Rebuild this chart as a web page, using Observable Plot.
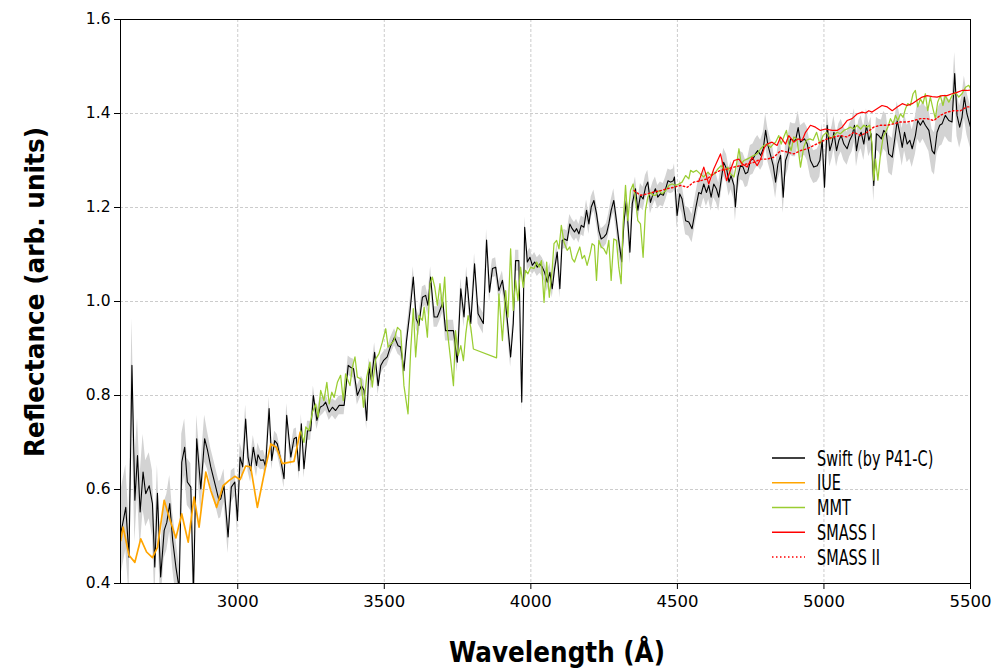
<!DOCTYPE html>
<html><head><meta charset="utf-8">
<script src="https://cdn.jsdelivr.net/npm/d3@7"></script>
<script src="https://cdn.jsdelivr.net/npm/@observablehq/plot@0.6"></script>
<style>
body{margin:0;background:#fff;}
#chart{width:992px;height:670px;}
</style></head><body><div id="chart"></div>
<script>
// Swift (by P41-C): [wavelength Å, reflectance, band half-width]
const swift = [
[2601,0.506,0.09],[2618,0.562,0.09],[2629,0.456,0.08],[2639,0.864,0.10],[2649,0.577,0.09],[2658,0.672,0.08],[2667,0.552,0.08],[2677,0.637,0.08],[2686,0.591,0.07],[2698,0.608,0.07],
[2709,0.570,0.07],[2717,0.435,0.07],[2726,0.592,0.06],[2737,0.414,0.06],[2749,0.513,0.06],[2758,0.530,0.06],[2768,0.570,0.06],[2778,0.492,0.06],[2789,0.435,0.06],[2800,0.390,0.05],
[2809,0.658,0.06],[2819,0.690,0.06],[2828,0.616,0.05],[2840,0.605,0.05],[2849,0.380,0.05],[2860,0.708,0.05],[2874,0.601,0.05],[2887,0.708,0.05],[2897,0.683,0.04],[2908,0.648,0.04],
[2925,0.605,0.04],[2936,0.577,0.04],[2942,0.580,0.04],[2953,0.608,0.035],[2967,0.499,0.035],[2978,0.605,0.035],[2990,0.616,0.03],[2999,0.534,0.03],[3008,0.669,0.03],[3017,0.648,0.03],
[3027,0.750,0.03],[3035,0.669,0.03],[3044,0.640,0.025],[3053,0.690,0.025],[3064,0.651,0.025],[3069,0.674,0.025],[3078,0.662,0.02],[3088,0.663,0.02],[3095,0.648,0.02],[3107,0.772,0.025],
[3116,0.662,0.02],[3126,0.704,0.02],[3135,0.697,0.02],[3147,0.662,0.02],[3158,0.623,0.02],[3167,0.758,0.025],[3181,0.669,0.02],[3192,0.708,0.02],[3200,0.711,0.02],[3209,0.640,0.02],
[3217,0.740,0.02],[3226,0.644,0.02],[3238,0.725,0.02],[3249,0.725,0.02],[3258,0.800,0.02],[3270,0.747,0.02],[3281,0.775,0.02],[3292,0.779,0.018],[3300,0.786,0.018],[3312,0.765,0.018],
[3323,0.775,0.018],[3334,0.768,0.02],[3346,0.779,0.02],[3363,0.779,0.02],[3377,0.864,0.02],[3385,0.860,0.02],[3395,0.857,0.02],[3408,0.800,0.02],[3422,0.821,0.02],[3431,0.811,0.02],
[3440,0.747,0.02],[3448,0.860,0.02],[3456,0.832,0.02],[3467,0.892,0.02],[3479,0.821,0.02],[3488,0.864,0.02],[3497,0.874,0.018],[3510,0.882,0.018],[3522,0.906,0.018],[3535,0.924,0.018],
[3547,0.906,0.018],[3556,0.903,0.02],[3567,0.853,0.02],[3576,0.917,0.02],[3588,0.981,0.022],[3599,1.052,0.022],[3609,0.963,0.022],[3618,0.949,0.022],[3630,1.009,0.022],[3641,1.013,0.022],
[3649,0.992,0.022],[3658,1.052,0.022],[3670,0.967,0.022],[3681,0.967,0.022],[3692,0.985,0.022],[3700,0.999,0.022],[3709,0.938,0.022],[3721,0.938,0.022],[3736,0.938,0.022],[3749,0.871,0.022],
[3761,1.027,0.022],[3772,0.967,0.022],[3781,1.052,0.022],[3795,0.953,0.022],[3808,1.080,0.022],[3820,0.974,0.022],[3838,0.953,0.022],[3849,1.131,0.022],[3859,1.020,0.022],[3869,1.070,0.02],
[3880,1.073,0.02],[3891,1.023,0.02],[3903,1.045,0.02],[3914,0.995,0.022],[3922,0.945,0.022],[3931,0.882,0.022],[3940,0.953,0.022],[3948,1.087,0.022],[3959,1.087,0.022],[3969,0.786,0.022],
[3979,1.158,0.022],[3988,1.084,0.02],[3997,1.094,0.02],[4005,1.077,0.02],[4013,1.084,0.02],[4022,1.073,0.02],[4031,1.080,0.02],[4039,1.073,0.02],[4047,1.062,0.02],[4056,1.041,0.02],
[4065,1.062,0.02],[4073,1.027,0.02],[4081,1.070,0.02],[4090,1.105,0.02],[4099,1.027,0.02],[4107,1.130,0.02],[4115,1.133,0.02],[4124,1.130,0.02],[4133,1.165,0.02],[4141,1.155,0.02],
[4149,1.148,0.02],[4156,1.155,0.02],[4164,1.144,0.02],[4172,1.162,0.02],[4181,1.158,0.02],[4190,1.194,0.022],[4198,1.165,0.022],[4206,1.201,0.022],[4215,1.215,0.022],[4224,1.187,0.022],
[4232,1.151,0.022],[4240,1.133,0.022],[4249,1.137,0.022],[4258,1.144,0.022],[4266,1.165,0.022],[4274,1.194,0.022],[4283,1.215,0.025],[4292,1.172,0.025],[4300,1.130,0.025],[4310,1.084,0.025],
[4318,1.172,0.025],[4326,1.215,0.025],[4338,1.105,0.025],[4346,1.208,0.025],[4357,1.240,0.025],[4365,1.194,0.025],[4374,1.226,0.025],[4383,1.218,0.025],[4391,1.243,0.025],[4399,1.254,0.025],
[4408,1.211,0.025],[4417,1.229,0.025],[4425,1.240,0.025],[4433,1.222,0.025],[4442,1.229,0.025],[4452,1.226,0.025],[4460,1.240,0.025],[4468,1.257,0.025],[4477,1.254,0.025],[4486,1.257,0.025],
[4490,1.265,0.028],[4499,1.183,0.028],[4508,1.229,0.028],[4516,1.218,0.03],[4528,1.172,0.03],[4539,1.169,0.03],[4550,1.155,0.03],[4562,1.197,0.03],[4573,1.232,0.03],[4581,1.229,0.03],
[4590,1.250,0.03],[4599,1.232,0.03],[4607,1.247,0.03],[4615,1.222,0.03],[4624,1.250,0.03],[4633,1.240,0.03],[4641,1.222,0.03],[4649,1.257,0.03],[4658,1.296,0.03],[4668,1.282,0.03],
[4676,1.254,0.03],[4683,1.268,0.03],[4693,1.247,0.03],[4698,1.201,0.03],[4706,1.265,0.03],[4715,1.289,0.03],[4724,1.286,0.03],[4732,1.272,0.03],[4740,1.275,0.03],[4749,1.300,0.032],
[4758,1.303,0.032],[4766,1.314,0.032],[4774,1.321,0.032],[4784,1.311,0.032],[4793,1.325,0.035],[4801,1.364,0.035],[4809,1.332,0.035],[4818,1.311,0.035],[4827,1.289,0.035],[4835,1.254,0.035],
[4843,1.293,0.035],[4852,1.311,0.035],[4861,1.222,0.035],[4869,1.300,0.035],[4877,1.314,0.035],[4886,1.346,0.035],[4895,1.343,0.035],[4903,1.343,0.035],[4912,1.370,0.035],[4920,1.339,0.035],
[4934,1.346,0.035],[4943,1.335,0.035],[4954,1.300,0.035],[4965,1.286,0.035],[4977,1.289,0.035],[4986,1.300,0.035],[4994,1.343,0.035],[5002,1.243,0.035],[5011,1.375,0.035],[5020,1.321,0.035],
[5028,1.339,0.035],[5034,1.360,0.035],[5043,1.321,0.035],[5051,1.343,0.035],[5059,1.353,0.035],[5068,1.335,0.035],[5079,1.325,0.035],[5088,1.343,0.035],[5096,1.353,0.035],[5104,1.375,0.035],
[5111,1.321,0.035],[5119,1.350,0.035],[5127,1.360,0.035],[5136,1.335,0.035],[5145,1.375,0.035],[5153,1.343,0.035],[5161,1.357,0.035],[5170,1.247,0.035],[5179,1.357,0.035],[5187,1.353,0.035],
[5196,1.346,0.04],[5204,1.364,0.04],[5213,1.357,0.04],[5221,1.314,0.04],[5233,1.307,0.04],[5241,1.343,0.04],[5250,1.385,0.04],[5259,1.357,0.04],[5267,1.328,0.04],[5275,1.360,0.04],
[5284,1.335,0.04],[5293,1.343,0.04],[5301,1.325,0.04],[5312,1.353,0.04],[5320,1.385,0.04],[5329,1.375,0.04],[5338,1.385,0.04],[5346,1.375,0.04],[5358,1.364,0.045],[5369,1.321,0.045],
[5377,1.314,0.045],[5386,1.360,0.045],[5395,1.375,0.045],[5403,1.378,0.045],[5414,1.396,0.045],[5426,1.385,0.045],[5437,1.382,0.045],[5446,1.485,0.045],[5454,1.396,0.045],[5463,1.371,0.045],
[5471,1.392,0.045],[5479,1.435,0.045],[5488,1.399,0.045],[5500,1.371,0.045]
];

// IUE: [wavelength Å, reflectance]
const iue = [
[2601,0.491],[2609,0.520],[2629,0.460],[2649,0.445],[2669,0.495],[2689,0.467],[2709,0.455],[2726,0.477],[2749,0.577],[2766,0.541],
[2789,0.497],[2809,0.548],[2831,0.488],[2851,0.584],[2868,0.520],[2891,0.637],[2908,0.598],[2928,0.562],[2950,0.608],[2970,0.619],
[2990,0.628],[3008,0.621],[3027,0.650],[3044,0.648],[3067,0.562],[3092,0.639],[3113,0.697],[3132,0.690],[3152,0.655],[3192,0.660],[3213,0.722]
];

// MMT: [wavelength Å, reflectance]
const mmt = [
[3215,0.725],[3226,0.700],[3232,0.733],[3243,0.726],[3255,0.765],[3266,0.782],[3274,0.754],[3283,0.811],[3294,0.789],[3304,0.828],
[3312,0.782],[3321,0.807],[3329,0.796],[3340,0.828],[3351,0.843],[3360,0.789],[3368,0.846],[3383,0.821],[3391,0.860],[3400,0.882],
[3408,0.839],[3420,0.835],[3429,0.775],[3440,0.839],[3451,0.871],[3459,0.818],[3471,0.878],[3482,0.889],[3493,0.913],[3505,0.942],
[3513,0.903],[3524,0.910],[3533,0.917],[3545,0.945],[3556,0.938],[3567,0.821],[3581,0.761],[3590,0.896],[3599,0.985],[3607,0.882],
[3618,0.970],[3630,0.960],[3636,0.988],[3647,0.924],[3656,1.038],[3664,1.052],[3672,1.031],[3681,0.992],[3690,1.038],[3698,0.988],
[3706,1.052],[3715,0.938],[3726,0.878],[3736,0.821],[3743,0.938],[3752,0.885],[3761,0.906],[3770,0.874],[3778,0.931],[3786,0.970],
[3795,0.945],[3804,0.899],[3883,0.880],[3891,1.016],[3903,0.917],[3914,1.023],[3922,0.967],[3931,1.112],[3940,0.981],[3948,1.045],
[3956,1.002],[3965,1.073],[3974,1.030],[3982,1.066],[3990,1.059],[3999,1.073],[4011,1.070],[4020,1.084],[4028,1.073],[4036,1.087],
[4045,0.998],[4054,1.084],[4063,1.009],[4073,1.070],[4079,1.123],[4088,1.130],[4096,1.112],[4104,1.162],[4113,1.126],[4124,1.109],
[4133,1.116],[4141,1.091],[4149,1.084],[4158,1.101],[4167,1.116],[4175,1.091],[4183,1.098],[4192,1.077],[4202,1.101],[4209,1.123],
[4217,1.119],[4224,1.045],[4232,1.130],[4240,1.116],[4249,1.112],[4258,1.101],[4266,1.130],[4274,1.045],[4283,1.133],[4292,1.130],
[4300,1.073],[4308,1.038],[4315,1.165],[4323,1.247],[4331,1.172],[4340,1.236],[4349,1.250],[4357,1.218],[4365,1.172],[4374,1.165],
[4383,1.094],[4391,1.194],[4399,1.222],[4408,1.232],[4417,1.226],[4425,1.226],[4437,1.236],[4448,1.229],[4460,1.236],[4471,1.247],
[4482,1.250],[4494,1.247],[4505,1.250],[4516,1.254],[4528,1.268],[4539,1.261],[4545,1.279],[4554,1.275],[4565,1.279],[4577,1.272],
[4590,1.265],[4604,1.275],[4615,1.268],[4627,1.272],[4638,1.282],[4649,1.289],[4661,1.279],[4672,1.286],[4681,1.272],[4693,1.265],
[4702,1.293],[4710,1.325],[4718,1.293],[4727,1.300],[4738,1.303],[4749,1.307],[4761,1.311],[4772,1.314],[4784,1.325],[4795,1.332],
[4806,1.335],[4818,1.328],[4827,1.335],[4835,1.339],[4846,1.353],[4854,1.335],[4863,1.350],[4872,1.364],[4880,1.335],[4888,1.321],
[4897,1.350],[4908,1.345],[4920,1.286],[4931,1.328],[4940,1.343],[4952,1.346],[4963,1.343],[4975,1.360],[4986,1.335],[4997,1.353],
[5009,1.360],[5022,1.346],[5034,1.353],[5045,1.360],[5056,1.357],[5068,1.364],[5079,1.367],[5090,1.371],[5102,1.367],[5113,1.375],
[5125,1.367],[5136,1.375],[5147,1.371],[5156,1.375],[5164,1.335],[5170,1.258],[5176,1.303],[5184,1.258],[5193,1.314],[5202,1.350],
[5210,1.360],[5218,1.371],[5227,1.389],[5236,1.378],[5244,1.396],[5252,1.385],[5261,1.399],[5270,1.392],[5278,1.410],[5286,1.421],
[5295,1.417],[5304,1.442],[5312,1.449],[5320,1.414],[5329,1.431],[5338,1.421],[5346,1.442],[5354,1.406],[5363,1.435],[5372,1.410],
[5380,1.389],[5388,1.424],[5397,1.438],[5406,1.417],[5414,1.438],[5426,1.424],[5437,1.438],[5449,1.445],[5460,1.435],[5471,1.442],
[5483,1.456],[5494,1.460],[5500,1.453]
];

// SMASS I: [wavelength Å, reflectance]
const smass1 = [
[4573,1.255],[4590,1.286],[4607,1.250],[4624,1.282],[4647,1.314],[4668,1.257],[4693,1.300],[4710,1.303],[4721,1.293],[4738,1.286],
[4755,1.307],[4772,1.289],[4784,1.303],[4797,1.328],[4806,1.335],[4823,1.339],[4840,1.332],[4852,1.350],[4869,1.335],[4880,1.353],
[4897,1.339],[4911,1.346],[4926,1.343],[4937,1.360],[4954,1.375],[4971,1.371],[4988,1.364],[5005,1.367],[5028,1.364],[5045,1.364],
[5062,1.371],[5079,1.385],[5096,1.389],[5113,1.399],[5130,1.403],[5142,1.401],[5153,1.406],[5164,1.403],[5181,1.410],[5198,1.417],
[5216,1.414],[5233,1.406],[5250,1.414],[5267,1.421],[5284,1.417],[5301,1.421],[5318,1.428],[5335,1.435],[5352,1.438],[5369,1.436],
[5386,1.435],[5403,1.438],[5420,1.438],[5437,1.442],[5454,1.445],[5471,1.449],[5488,1.449],[5500,1.450]
];

// SMASS II: [wavelength Å, reflectance]
const smass2 = [
[4352,1.236],[4374,1.226],[4397,1.229],[4420,1.233],[4443,1.236],[4465,1.240],[4488,1.243],[4511,1.247],[4534,1.243],[4556,1.254],
[4579,1.257],[4602,1.261],[4624,1.272],[4647,1.279],[4670,1.282],[4693,1.286],[4715,1.289],[4738,1.293],[4761,1.296],[4784,1.303],
[4806,1.303],[4829,1.307],[4852,1.321],[4875,1.318],[4897,1.314],[4920,1.321],[4943,1.325],[4965,1.332],[4988,1.339],[5011,1.346],
[5034,1.350],[5056,1.353],[5079,1.350],[5102,1.360],[5125,1.353],[5147,1.360],[5170,1.371],[5193,1.375],[5216,1.375],[5238,1.378],
[5261,1.382],[5284,1.382],[5306,1.385],[5329,1.389],[5352,1.389],[5375,1.385],[5397,1.396],[5420,1.403],[5443,1.406],[5466,1.406],
[5488,1.414],[5500,1.414]
];

const xTicks = [3000, 3500, 4000, 4500, 5000, 5500];
const yTicks = [0.4, 0.6, 0.8, 1.0, 1.2, 1.4, 1.6];
const seriesNames = ["Swift (by P41-C)", "IUE", "MMT", "SMASS I", "SMASS II"];
const xTitle = "Wavelength (Å)";
const yTitle = "Reflectance (arb. units)";

const font = "'DejaVu Sans',sans-serif";
const pts = a => a.map(([x, y, e]) => ({x, y, e}));
const swiftD = pts(swift), iueD = pts(iue), mmtD = pts(mmt), s1D = pts(smass1), s2D = pts(smass2);

const styles = [
  {stroke: "#000000", strokeWidth: 1.1},
  {stroke: "#ffa500", strokeWidth: 1.7},
  {stroke: "#9acd32", strokeWidth: 1.25},
  {stroke: "#ff0000", strokeWidth: 1.2},
  {stroke: "#ff0000", strokeWidth: 1.4, strokeDasharray: "1.5,2.5"}
];

const plot = Plot.plot({
  width: 992, height: 670,
  marginLeft: 120, marginRight: 22, marginTop: 19, marginBottom: 87,
  x: {domain: [2600, 5500]},
  y: {domain: [0.4, 1.6]},
  style: {fontFamily: font, background: "white", overflow: "visible", color: "black"},
  marks: [
    Plot.gridX(xTicks, {stroke: "#cccccc", strokeOpacity: 1, strokeDasharray: "3,2"}),
    Plot.gridY(yTicks, {stroke: "#cccccc", strokeOpacity: 1, strokeDasharray: "3,2"}),
    Plot.areaY(swiftD, {x: "x", y1: d => d.y - d.e, y2: d => d.y + d.e, fill: "#d3d3d3", fillOpacity: 1, clip: true}),
    Plot.line(swiftD, {x: "x", y: "y", ...styles[0], clip: true}),
    Plot.line(iueD, {x: "x", y: "y", ...styles[1], clip: true}),
    Plot.line(mmtD, {x: "x", y: "y", ...styles[2], clip: true}),
    Plot.line(s1D, {x: "x", y: "y", ...styles[3], clip: true}),
    Plot.line(s2D, {x: "x", y: "y", ...styles[4], clip: true}),
    Plot.frame({stroke: "black", strokeWidth: 1}),
    Plot.axisX(xTicks, {tickSize: 6, tickPadding: 6, fontSize: 16.5, tickFormat: d => String(d), label: null}),
    Plot.axisY(yTicks, {tickSize: 6, tickPadding: 4, fontSize: 15.5, tickFormat: d => d.toFixed(1), label: null})
  ]
});

const svg = d3.select(plot);

// Axis titles (bold condensed look)
svg.append("text").attr("x", 557).attr("y", 661.5)
  .attr("text-anchor", "middle").attr("font-family", font).attr("font-weight", "bold").attr("font-size", 29)
  .attr("textLength", 216).attr("lengthAdjust", "spacingAndGlyphs").attr("fill", "black").text(xTitle);
svg.append("text").attr("transform", "translate(44,292) rotate(-90)")
  .attr("text-anchor", "middle").attr("font-family", font).attr("font-weight", "bold").attr("font-size", 27)
  .attr("textLength", 330).attr("lengthAdjust", "spacingAndGlyphs").attr("fill", "black").text(yTitle);

// Legend (inside lower-right of the plot area)
const lg = svg.append("g").attr("font-family", font).attr("font-size", 21);
seriesNames.forEach((name, i) => {
  const y = 458 + i * 24.75;
  const s = styles[i];
  lg.append("line").attr("x1", 772).attr("x2", 805).attr("y1", y).attr("y2", y)
    .attr("stroke", s.stroke).attr("stroke-width", Math.max(1.5, s.strokeWidth))
    .attr("stroke-dasharray", s.strokeDasharray || null);
  lg.append("text").attr("transform", `translate(817,${y}) scale(0.69,1)`)
    .attr("text-anchor", "start").attr("dy", "0.36em").attr("fill", "black").text(name);
});

document.getElementById("chart").appendChild(plot);
</script></body></html>
